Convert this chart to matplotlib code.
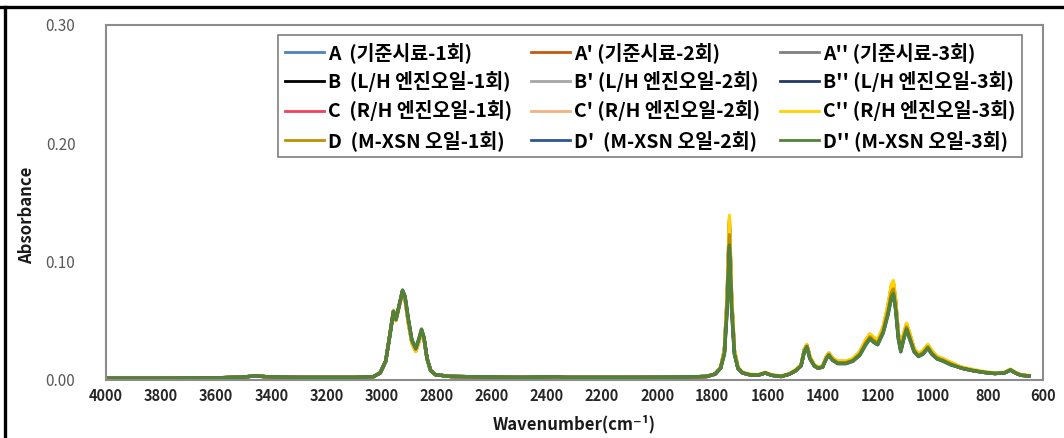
import matplotlib
matplotlib.use("Agg")
import matplotlib.pyplot as plt
from matplotlib.lines import Line2D

# ---------------- data ----------------
wavenumber = [
    4000, 3800, 3600, 3500, 3460, 3420, 3300, 3100, 3030, 3005, 2985, 2970, 2957, 2948, 2938,
    2924, 2915, 2903, 2890, 2876, 2866, 2855, 2846,
    2835, 2822, 2805, 2750, 2500, 2360, 2330, 2100, 1900, 1820, 1790, 1770,
    1756, 1746, 1738, 1730, 1720,
    1707, 1690, 1665, 1635, 1608, 1585, 1550, 1520, 1497, 1478,
    1466, 1457, 1446,
    1430, 1416, 1400,
    1386, 1377, 1365, 1345, 1315, 1290, 1265, 1243, 1228, 1214, 1200, 1180, 1163, 1150, 1143,
    1135, 1125, 1116, 1105, 1095, 1084, 1068, 1052, 1035, 1018, 1004, 985, 962, 935,
    895, 855, 815, 775, 740, 718, 700, 680, 650,
]

abs_A = [
    0.0015, 0.0015, 0.0018, 0.0025, 0.0035, 0.0028, 0.0022, 0.0022, 0.0028, 0.006, 0.016, 0.038, 0.058, 0.051, 0.061,
    0.0751, 0.0696, 0.0502, 0.0326, 0.0256, 0.0326, 0.0416, 0.0351,
    0.018, 0.008, 0.0045, 0.003, 0.0022, 0.0028, 0.0022, 0.0022, 0.0025, 0.003, 0.005, 0.010,
    0.0238, 0.0659, 0.1253, 0.0659, 0.0238,
    0.010, 0.006, 0.0045, 0.004, 0.006, 0.004, 0.003, 0.005, 0.008, 0.012,
    0.0249, 0.0289, 0.0189,
    0.012, 0.010, 0.011,
    0.0189, 0.0219, 0.0179, 0.0149, 0.0149, 0.0169, 0.0224, 0.0318, 0.0368, 0.0338, 0.0318, 0.0423, 0.0586, 0.0750, 0.0780,
    0.0641, 0.0373, 0.0254, 0.0373, 0.0453, 0.0373, 0.0254, 0.0209, 0.0234, 0.0284, 0.0234, 0.0189, 0.0169, 0.0139,
    0.010, 0.008, 0.0065, 0.0055, 0.006, 0.0085, 0.006, 0.004, 0.0035,
]
abs_A1 = [
    0.0015, 0.0015, 0.0018, 0.0025, 0.0035, 0.0028, 0.0022, 0.0022, 0.0028, 0.006, 0.016, 0.038, 0.058, 0.051, 0.061,
    0.0749, 0.0693, 0.0498, 0.0323, 0.0253, 0.0323, 0.0413, 0.0349,
    0.018, 0.008, 0.0045, 0.003, 0.0022, 0.0028, 0.0022, 0.0022, 0.0025, 0.003, 0.005, 0.010,
    0.0242, 0.0672, 0.1278, 0.0672, 0.0242,
    0.010, 0.006, 0.0045, 0.004, 0.006, 0.004, 0.003, 0.005, 0.008, 0.012,
    0.0251, 0.0291, 0.0191,
    0.012, 0.010, 0.011,
    0.0191, 0.0221, 0.0181, 0.0151, 0.0151, 0.0171, 0.0227, 0.0322, 0.0372, 0.0342, 0.0322, 0.0428, 0.0594, 0.0761, 0.0791,
    0.0650, 0.0378, 0.0257, 0.0378, 0.0458, 0.0378, 0.0257, 0.0211, 0.0237, 0.0287, 0.0237, 0.0191, 0.0171, 0.0141,
    0.010, 0.008, 0.0065, 0.0055, 0.006, 0.0085, 0.006, 0.004, 0.0035,
]
abs_A2 = [
    0.0015, 0.0015, 0.0018, 0.0025, 0.0035, 0.0028, 0.0022, 0.0022, 0.0028, 0.006, 0.016, 0.038, 0.058, 0.051, 0.061,
    0.0750, 0.0695, 0.0500, 0.0325, 0.0255, 0.0325, 0.0415, 0.0350,
    0.018, 0.008, 0.0045, 0.003, 0.0022, 0.0028, 0.0022, 0.0022, 0.0025, 0.003, 0.005, 0.010,
    0.0240, 0.0665, 0.1265, 0.0665, 0.0240,
    0.010, 0.006, 0.0045, 0.004, 0.006, 0.004, 0.003, 0.005, 0.008, 0.012,
    0.0250, 0.0290, 0.0190,
    0.012, 0.010, 0.011,
    0.0190, 0.0220, 0.0180, 0.0150, 0.0150, 0.0170, 0.0225, 0.0320, 0.0370, 0.0340, 0.0320, 0.0425, 0.0590, 0.0755, 0.0785,
    0.0645, 0.0375, 0.0255, 0.0375, 0.0455, 0.0375, 0.0255, 0.0210, 0.0235, 0.0285, 0.0235, 0.0190, 0.0170, 0.0140,
    0.010, 0.008, 0.0065, 0.0055, 0.006, 0.0085, 0.006, 0.004, 0.0035,
]
abs_B = [
    0.0015, 0.0015, 0.0018, 0.0025, 0.0035, 0.0028, 0.0022, 0.0022, 0.0028, 0.006, 0.016, 0.038, 0.058, 0.051, 0.061,
    0.0748, 0.0692, 0.0496, 0.0322, 0.0252, 0.0322, 0.0412, 0.0348,
    0.018, 0.008, 0.0045, 0.003, 0.0022, 0.0028, 0.0022, 0.0022, 0.0025, 0.003, 0.005, 0.010,
    0.0244, 0.0678, 0.1290, 0.0678, 0.0244,
    0.010, 0.006, 0.0045, 0.004, 0.006, 0.004, 0.003, 0.005, 0.008, 0.012,
    0.0252, 0.0292, 0.0192,
    0.012, 0.010, 0.011,
    0.0192, 0.0222, 0.0182, 0.0152, 0.0152, 0.0172, 0.0228, 0.0324, 0.0374, 0.0344, 0.0324, 0.0430, 0.0598, 0.0766, 0.0796,
    0.0654, 0.0380, 0.0258, 0.0380, 0.0460, 0.0380, 0.0258, 0.0212, 0.0238, 0.0288, 0.0238, 0.0192, 0.0172, 0.0142,
    0.010, 0.008, 0.0065, 0.0055, 0.006, 0.0085, 0.006, 0.004, 0.0035,
]
abs_B1 = [
    0.0015, 0.0015, 0.0018, 0.0025, 0.0035, 0.0028, 0.0022, 0.0022, 0.0028, 0.006, 0.016, 0.038, 0.058, 0.051, 0.061,
    0.0747, 0.0690, 0.0494, 0.0320, 0.0250, 0.0320, 0.0410, 0.0347,
    0.018, 0.008, 0.0045, 0.003, 0.0022, 0.0028, 0.0022, 0.0022, 0.0025, 0.003, 0.005, 0.010,
    0.0246, 0.0685, 0.1303, 0.0685, 0.0246,
    0.010, 0.006, 0.0045, 0.004, 0.006, 0.004, 0.003, 0.005, 0.008, 0.012,
    0.0253, 0.0293, 0.0193,
    0.012, 0.010, 0.011,
    0.0193, 0.0223, 0.0183, 0.0153, 0.0153, 0.0173, 0.0230, 0.0326, 0.0376, 0.0346, 0.0326, 0.0433, 0.0602, 0.0772, 0.0802,
    0.0659, 0.0383, 0.0260, 0.0383, 0.0463, 0.0383, 0.0260, 0.0213, 0.0240, 0.0290, 0.0240, 0.0193, 0.0173, 0.0143,
    0.010, 0.008, 0.0065, 0.0055, 0.006, 0.0085, 0.006, 0.004, 0.0035,
]
abs_B2 = [
    0.0015, 0.0015, 0.0018, 0.0025, 0.0035, 0.0028, 0.0022, 0.0022, 0.0028, 0.006, 0.016, 0.038, 0.058, 0.051, 0.061,
    0.0744, 0.0686, 0.0488, 0.0316, 0.0246, 0.0316, 0.0406, 0.0344,
    0.018, 0.008, 0.0045, 0.003, 0.0022, 0.0028, 0.0022, 0.0022, 0.0025, 0.003, 0.005, 0.010,
    0.0252, 0.0704, 0.1340, 0.0704, 0.0252,
    0.010, 0.006, 0.0045, 0.004, 0.006, 0.004, 0.003, 0.005, 0.008, 0.012,
    0.0256, 0.0296, 0.0196,
    0.012, 0.010, 0.011,
    0.0196, 0.0226, 0.0186, 0.0156, 0.0156, 0.0176, 0.0234, 0.0332, 0.0382, 0.0352, 0.0332, 0.0440, 0.0614, 0.0788, 0.0818,
    0.0672, 0.0390, 0.0264, 0.0390, 0.0470, 0.0390, 0.0264, 0.0216, 0.0244, 0.0294, 0.0244, 0.0196, 0.0176, 0.0146,
    0.010, 0.008, 0.0065, 0.0055, 0.006, 0.0085, 0.006, 0.004, 0.0035,
]
abs_C = [
    0.0015, 0.0015, 0.0018, 0.0025, 0.0035, 0.0028, 0.0022, 0.0022, 0.0028, 0.006, 0.016, 0.038, 0.058, 0.051, 0.061,
    0.0746, 0.0689, 0.0492, 0.0319, 0.0249, 0.0319, 0.0409, 0.0346,
    0.018, 0.008, 0.0045, 0.003, 0.0022, 0.0028, 0.0022, 0.0022, 0.0025, 0.003, 0.005, 0.010,
    0.0248, 0.0691, 0.1315, 0.0691, 0.0248,
    0.010, 0.006, 0.0045, 0.004, 0.006, 0.004, 0.003, 0.005, 0.008, 0.012,
    0.0254, 0.0294, 0.0194,
    0.012, 0.010, 0.011,
    0.0194, 0.0224, 0.0184, 0.0154, 0.0154, 0.0174, 0.0231, 0.0328, 0.0378, 0.0348, 0.0328, 0.0435, 0.0606, 0.0777, 0.0807,
    0.0663, 0.0385, 0.0261, 0.0385, 0.0465, 0.0385, 0.0261, 0.0214, 0.0241, 0.0291, 0.0241, 0.0194, 0.0174, 0.0144,
    0.010, 0.008, 0.0065, 0.0055, 0.006, 0.0085, 0.006, 0.004, 0.0035,
]
abs_C1 = [
    0.0015, 0.0015, 0.0018, 0.0025, 0.0035, 0.0028, 0.0022, 0.0022, 0.0028, 0.006, 0.016, 0.038, 0.058, 0.051, 0.061,
    0.0742, 0.0683, 0.0484, 0.0313, 0.0243, 0.0313, 0.0403, 0.0342,
    0.018, 0.008, 0.0045, 0.003, 0.0022, 0.0028, 0.0022, 0.0022, 0.0025, 0.003, 0.005, 0.010,
    0.0256, 0.0717, 0.1365, 0.0717, 0.0256,
    0.010, 0.006, 0.0045, 0.004, 0.006, 0.004, 0.003, 0.005, 0.008, 0.012,
    0.0258, 0.0298, 0.0198,
    0.012, 0.010, 0.011,
    0.0198, 0.0228, 0.0188, 0.0158, 0.0158, 0.0178, 0.0237, 0.0336, 0.0386, 0.0356, 0.0336, 0.0445, 0.0622, 0.0799, 0.0829,
    0.0681, 0.0395, 0.0267, 0.0395, 0.0475, 0.0395, 0.0267, 0.0218, 0.0247, 0.0297, 0.0247, 0.0198, 0.0178, 0.0148,
    0.010, 0.008, 0.0065, 0.0055, 0.006, 0.0085, 0.006, 0.004, 0.0035,
]
abs_C2 = [
    0.0015, 0.0015, 0.0018, 0.0025, 0.0035, 0.0028, 0.0022, 0.0022, 0.0028, 0.006, 0.016, 0.039, 0.059, 0.050, 0.060,
    0.074, 0.068, 0.048, 0.031, 0.024, 0.031, 0.040, 0.034,
    0.017, 0.008, 0.0045, 0.003, 0.0022, 0.0028, 0.0022, 0.0022, 0.0025, 0.003, 0.005, 0.011,
    0.026, 0.073, 0.139, 0.073, 0.026,
    0.011, 0.0065, 0.005, 0.0045, 0.0065, 0.0045, 0.0035, 0.0055, 0.009, 0.013,
    0.026, 0.030, 0.020,
    0.013, 0.011, 0.012,
    0.020, 0.023, 0.019, 0.016, 0.016, 0.018, 0.024, 0.034, 0.039, 0.036, 0.034, 0.045, 0.063, 0.081, 0.084,
    0.069, 0.040, 0.027, 0.040, 0.048, 0.040, 0.027, 0.022, 0.025, 0.030, 0.025, 0.020, 0.018, 0.015,
    0.011, 0.009, 0.0072, 0.006, 0.0065, 0.0092, 0.0065, 0.0045, 0.0038,
]
abs_D = [
    0.0015, 0.0015, 0.0018, 0.0025, 0.0035, 0.0028, 0.0022, 0.0022, 0.0028, 0.006, 0.016, 0.038, 0.058, 0.051, 0.061,
    0.0753, 0.0699, 0.0506, 0.0329, 0.0259, 0.0329, 0.0419, 0.0353,
    0.018, 0.008, 0.0045, 0.003, 0.0022, 0.0028, 0.0022, 0.0022, 0.0025, 0.003, 0.005, 0.010,
    0.0234, 0.0646, 0.1228, 0.0646, 0.0234,
    0.010, 0.006, 0.0045, 0.004, 0.006, 0.004, 0.003, 0.005, 0.008, 0.012,
    0.0247, 0.0287, 0.0187,
    0.012, 0.010, 0.011,
    0.0187, 0.0217, 0.0177, 0.0147, 0.0147, 0.0167, 0.0221, 0.0314, 0.0364, 0.0334, 0.0314, 0.0418, 0.0578, 0.0739, 0.0769,
    0.0632, 0.0368, 0.0251, 0.0368, 0.0448, 0.0368, 0.0251, 0.0207, 0.0231, 0.0281, 0.0231, 0.0187, 0.0167, 0.0137,
    0.010, 0.008, 0.0065, 0.0055, 0.006, 0.0085, 0.006, 0.004, 0.0035,
]
abs_D1 = [
    0.0015, 0.0015, 0.0018, 0.0025, 0.0035, 0.0028, 0.0022, 0.0022, 0.0028, 0.006, 0.016, 0.038, 0.058, 0.051, 0.061,
    0.0758, 0.0708, 0.0518, 0.0338, 0.0268, 0.0338, 0.0428, 0.0358,
    0.018, 0.008, 0.0045, 0.003, 0.0022, 0.0028, 0.0022, 0.0022, 0.0025, 0.003, 0.005, 0.010,
    0.0218, 0.0595, 0.1132, 0.0595, 0.0218,
    0.010, 0.006, 0.0045, 0.004, 0.006, 0.004, 0.003, 0.005, 0.008, 0.012,
    0.0238, 0.0278, 0.0178,
    0.012, 0.010, 0.011,
    0.0178, 0.0208, 0.0168, 0.0138, 0.0138, 0.0158, 0.0208, 0.0297, 0.0347, 0.0317, 0.0297, 0.0396, 0.0545, 0.0694, 0.0724,
    0.0595, 0.0347, 0.0238, 0.0347, 0.0427, 0.0347, 0.0238, 0.0198, 0.0218, 0.0268, 0.0218, 0.0178, 0.0158, 0.0128,
    0.010, 0.008, 0.0065, 0.0055, 0.006, 0.0085, 0.006, 0.004, 0.0035,
]
abs_D2 = [
    0.0015, 0.0015, 0.0018, 0.0025, 0.0035, 0.0028, 0.0022, 0.0022, 0.0028, 0.006, 0.016, 0.038, 0.058, 0.051, 0.061,
    0.076, 0.071, 0.052, 0.034, 0.027, 0.034, 0.043, 0.036,
    0.018, 0.008, 0.0045, 0.003, 0.0022, 0.0028, 0.0022, 0.0022, 0.0025, 0.003, 0.005, 0.010,
    0.022, 0.060, 0.114, 0.060, 0.022,
    0.010, 0.006, 0.0045, 0.004, 0.006, 0.004, 0.003, 0.005, 0.008, 0.012,
    0.024, 0.028, 0.018,
    0.012, 0.010, 0.011,
    0.018, 0.021, 0.017, 0.014, 0.014, 0.016, 0.021, 0.030, 0.035, 0.032, 0.030, 0.040, 0.055, 0.070, 0.073,
    0.060, 0.035, 0.024, 0.035, 0.043, 0.035, 0.024, 0.020, 0.022, 0.027, 0.022, 0.018, 0.016, 0.013,
    0.010, 0.008, 0.0065, 0.0055, 0.006, 0.0085, 0.006, 0.004, 0.0035,
]

series_labels = [
    "A  (기준시료-1회)", "A' (기준시료-2회)", "A'' (기준시료-3회)",
    "B  (L/H 엔진오일-1회)", "B' (L/H 엔진오일-2회)", "B'' (L/H 엔진오일-3회)",
    "C  (R/H 엔진오일-1회)", "C' (R/H 엔진오일-2회)", "C'' (R/H 엔진오일-3회)",
    "D  (M-XSN 오일-1회)", "D'  (M-XSN 오일-2회)", "D'' (M-XSN 오일-3회)",
]
series_values = [abs_A, abs_A1, abs_A2, abs_B, abs_B1, abs_B2,
                 abs_C, abs_C1, abs_C2, abs_D, abs_D1, abs_D2]
series_colors = ["#4F81BD", "#C65911", "#7F7F7F",
                 "#000000", "#A6A6A6", "#1F3864",
                 "#F0405A", "#F4B183", "#FFD200",
                 "#BF9000", "#2F5597", "#548235"]

x_ticks = [4000, 3800, 3600, 3400, 3200, 3000, 2800, 2600, 2400, 2200,
           2000, 1800, 1600, 1400, 1200, 1000, 800, 600]
y_ticks = [0.00, 0.10, 0.20, 0.30]

FONT = ["Noto Sans CJK KR", "DejaVu Sans"]

# ---------------- figure ----------------
W, H = 1064, 438
fig = plt.figure(figsize=(W / 100, H / 100), dpi=100)
fig.patch.set_facecolor("white")

left, right, top, bottom = 106, 1043, 25, 380
ax = fig.add_axes([left / W, 1 - bottom / H, (right - left) / W, (bottom - top) / H])

lines = []
for vals, lab, col in zip(series_values, series_labels, series_colors):
    ln, = ax.plot(wavenumber, vals, color=col, lw=2.4, label=lab, solid_joinstyle="round")
    lines.append(ln)

ax.set_xlim(4000, 600)
ax.set_ylim(0, 0.30)
ax.set_xticks(x_ticks)
ax.set_xticklabels([str(t) for t in x_ticks])
ax.set_yticks(y_ticks)
ax.set_yticklabels([f"{t:.2f}" for t in y_ticks])
ax.tick_params(axis="both", length=0)
ax.tick_params(axis="y", pad=22, labelsize=11, labelcolor="#595959")
ax.tick_params(axis="x", pad=6, labelsize=10.5, labelcolor="#262626")
for lab in ax.get_xticklabels():
    lab.set_fontweight("bold")
    lab.set_family(FONT)
for lab in ax.get_yticklabels():
    lab.set_family(FONT)
for sp in ax.spines.values():
    sp.set_color("#8C8C8C")
    sp.set_linewidth(1.5)

# legend: row-wise ordering (A, A', A'' in the first row), box spanning x=278..1022 px
order = [0, 3, 6, 9, 1, 4, 7, 10, 2, 5, 8, 11]
aw, ah = right - left, bottom - top
leg = ax.legend([lines[i] for i in order], [series_labels[i] for i in order],
                ncol=3, loc="upper left", mode="expand",
                bbox_to_anchor=((278 - left) / aw, (bottom - 35) / ah, (1022 - 278) / aw, 0.0),
                prop={"family": FONT, "weight": "bold", "size": 14},
                handlelength=2.0, handletextpad=0.2, columnspacing=0.5, labelspacing=0.43,
                borderpad=0.35, borderaxespad=0, frameon=True, fancybox=False, framealpha=1)
leg.get_frame().set_edgecolor("#7F7F7F")
leg.get_frame().set_linewidth(1.2)
for h in leg.get_lines():
    h.set_linewidth(2.0)

# axis titles
fig.text(27 / W, 1 - 215 / H, "Absorbance", rotation=90, ha="center", va="center",
         fontsize=12, fontweight="bold", color="#1A1A1A", family=FONT)
fig.text(574 / W, 1 - 424 / H, "Wavenumber(cm⁻¹)", ha="center", va="center",
         fontsize=12, fontweight="bold", color="#1A1A1A", family=FONT)

# outer frame lines (top and left)
fig.add_artist(Line2D([0, 1], [1 - 6.5 / H, 1 - 6.5 / H], transform=fig.transFigure, color="black", lw=2.4))
fig.add_artist(Line2D([5 / W, 5 / W], [0, 1 - 6.5 / H], transform=fig.transFigure, color="black", lw=2.4))

fig.savefig("out.png", dpi=100)
